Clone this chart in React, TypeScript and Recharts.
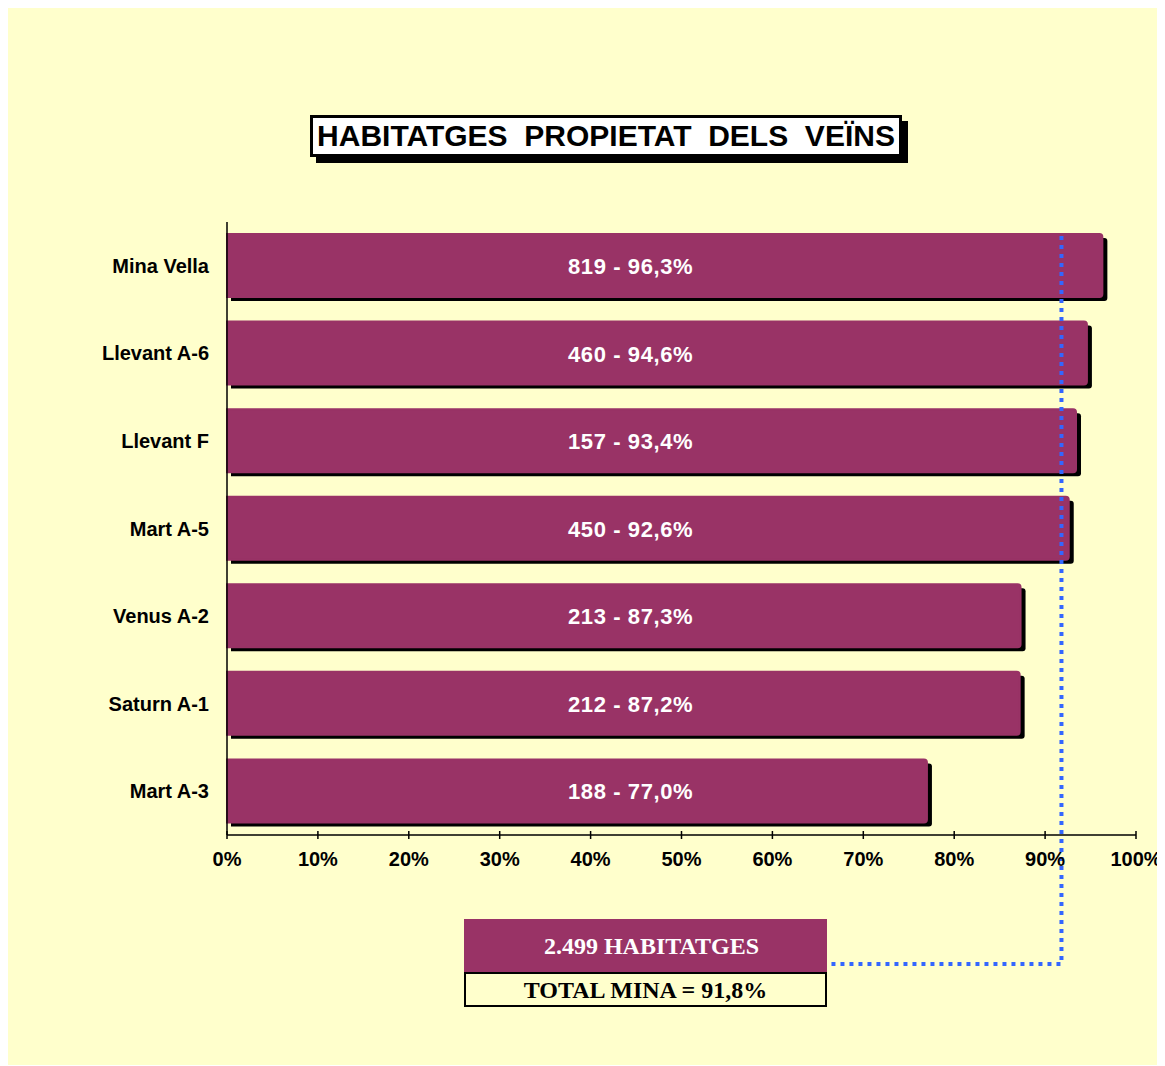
import React from 'react';
import { BarChart, Bar, XAxis, YAxis, ReferenceLine } from 'recharts';

const categories = ['Mina Vella', 'Llevant A-6', 'Llevant F', 'Mart A-5', 'Venus A-2', 'Saturn A-1', 'Mart A-3'];
const counts = [819, 460, 157, 450, 213, 212, 188];
const percents = [96.3, 94.6, 93.4, 92.6, 87.3, 87.2, 77.0];
const xTicks = [0, 10, 20, 30, 40, 50, 60, 70, 80, 90, 100];
const totalCount = '2.499';
const totalPercent = 91.8;
const titleText = 'HABITATGES  PROPIETAT  DELS  VEÏNS';

const data = categories.map((name, i) => ({ name, pct: percents[i], count: counts[i] }));
const fmt = (v: number) => v.toFixed(1).replace('.', ',');

const W = 1157;
const H = 1058;
const PURPLE = '#993366';
const BG = '#FFFFCC';
const SANS = '"Liberation Sans", Arial, sans-serif';
const SERIF = '"Liberation Serif", "Times New Roman", serif';
const LABEL_AT = 44.4;

const roundedRight = (x: number, y: number, w: number, h: number, r: number) =>
  `M${x},${y} L${x + w - r},${y} Q${x + w},${y} ${x + w},${y + r} L${x + w},${y + h - r} Q${x + w},${y + h} ${x + w - r},${y + h} L${x},${y + h} Z`;

const BarShape = (props: any) => {
  const { x, y, width, height, payload } = props;
  const lx = x + (width * LABEL_AT) / payload.pct;
  return (
    <g>
      <path d={roundedRight(x + 4, y + 4, width + 1, height, 3)} fill="#000" />
      <path d={roundedRight(x, y, width, height, 3)} fill={PURPLE} stroke={PURPLE} strokeWidth={2} />
      <text
        x={lx}
        y={y + height / 2 + 1}
        textAnchor="middle"
        dominantBaseline="central"
        fill="#fff"
        fontWeight="bold"
        fontSize={22}
        fontFamily={SANS}
        letterSpacing={0.6}
      >{`${payload.count} - ${fmt(payload.pct)}%`}</text>
    </g>
  );
};

const XTick = (props: any) => {
  const { x, y, payload } = props;
  return (
    <g>
      <line x1={x} x2={x} y1={y - 4} y2={y + 4} stroke="#000" strokeWidth={1.5} />
      <text x={x} y={y + 24} textAnchor="middle" dominantBaseline="central" fontWeight="bold" fontSize={20} fontFamily={SANS} fill="#000">
        {`${payload.value}%`}
      </text>
    </g>
  );
};

const YTick = (props: any) => {
  const { x, y, payload } = props;
  return (
    <text x={x} y={y} textAnchor="end" dominantBaseline="central" fontWeight="bold" fontSize={20} fontFamily={SANS} fill="#000">
      {payload.value}
    </text>
  );
};

const TotalLine = (props: any) => {
  const { x1, y1, y2 } = props;
  const top = Math.min(y1, y2);
  const d = `M${x1},${top + 14} L${x1},957 L819,957`;
  return <path d={d} fill="none" stroke="#3366FF" strokeWidth={4} strokeDasharray="4 5" />;
};

export default function App() {
  return (
    <>
      <style>{`body{margin:8px 8px 0 8px;} #root{width:${W}px;}`}</style>
      <div style={{ position: 'relative', width: W, height: H, background: BG, marginTop: -1 }}>
        <BarChart
          width={W}
          height={H}
          data={data}
          layout="vertical"
          margin={{ top: 215, right: 29, left: 0, bottom: 190 }}
          barCategoryGap={12}
        >
          <XAxis
            type="number"
            domain={[0, 100]}
            ticks={xTicks}
            interval={0}
            tickLine={false}
            tickSize={0}
            tickMargin={0}
            height={40}
            axisLine={{ stroke: '#000', strokeWidth: 1.5 }}
            tick={<XTick />}
          />
          <YAxis
            type="category"
            dataKey="name"
            width={219}
            tickLine={false}
            tickSize={0}
            tickMargin={18}
            axisLine={{ stroke: '#000', strokeWidth: 1.5 }}
            tick={<YTick />}
          />
          <Bar dataKey="pct" barSize={63} shape={<BarShape />} isAnimationActive={false} />
          <ReferenceLine x={totalPercent} shape={<TotalLine />} ifOverflow="visible" />
        </BarChart>

        <div
          style={{
            position: 'absolute',
            left: 302,
            top: 108,
            width: 586,
            height: 36,
            border: '3px solid #000',
            background: '#fff',
            boxShadow: '6px 6px 0 #000',
            display: 'flex',
            alignItems: 'center',
            justifyContent: 'center',
            fontFamily: SANS,
            fontWeight: 'bold',
            fontSize: 30,
            whiteSpace: 'pre',
            color: '#000',
          }}
        >
          {titleText}
        </div>

        <div
          style={{
            position: 'absolute',
            left: 456,
            top: 912,
            width: 351,
            height: 51,
            paddingTop: 2,
            paddingLeft: 12,
            background: PURPLE,
            display: 'flex',
            alignItems: 'center',
            justifyContent: 'center',
            fontFamily: SERIF,
            fontWeight: 'bold',
            fontSize: 24,
            color: '#fff',
          }}
        >
          {`${totalCount} HABITATGES`}
        </div>
        <div
          style={{
            position: 'absolute',
            left: 456,
            top: 965,
            width: 359,
            height: 29,
            paddingTop: 2,
            border: '2px solid #000',
            background: BG,
            display: 'flex',
            alignItems: 'center',
            justifyContent: 'center',
            fontFamily: SERIF,
            fontWeight: 'bold',
            fontSize: 24,
            color: '#000',
          }}
        >
          {`TOTAL MINA = ${fmt(totalPercent)}%`}
        </div>
      </div>
    </>
  );
}
